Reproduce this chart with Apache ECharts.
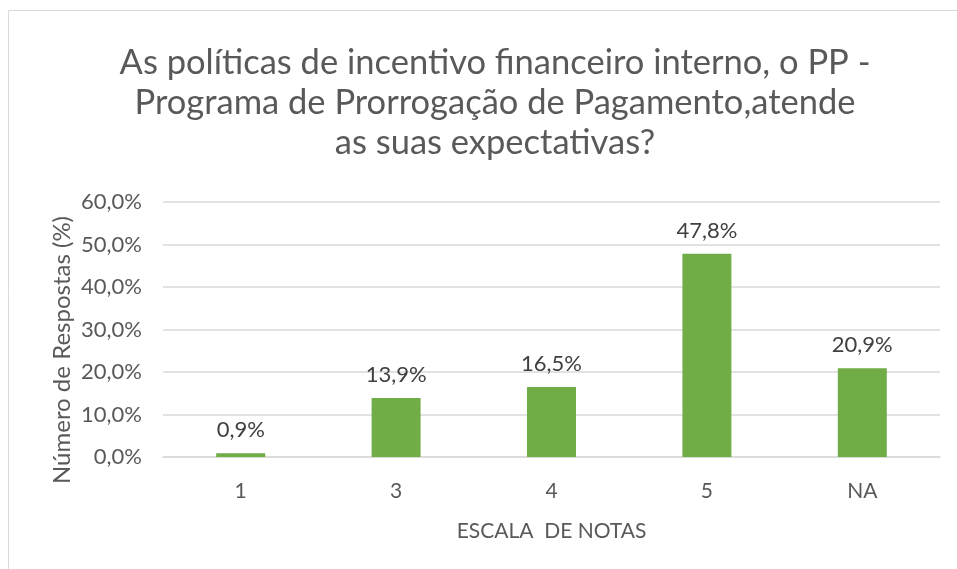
<!DOCTYPE html>
<html>
<head>
<meta charset="utf-8">
<script src="https://cdn.jsdelivr.net/npm/echarts@6/dist/echarts.min.js"></script>
<style>
  html, body { margin: 0; padding: 0; background: #fff; }
  #chart { width: 957px; height: 569px; }
</style>
</head>
<body>
<div id="chart"></div>
<script>
// Survey answers by score
const categories = ['1', '3', '4', '5', 'NA'];
const shares = [0.9, 13.9, 16.5, 47.8, 20.9];
const yTicks = [0, 10, 20, 30, 40, 50, 60];

const titleText = 'As políticas de incentivo financeiro interno, o PP -\nPrograma de Prorrogação de Pagamento,atende\nas suas expectativas?';
const yName = 'Número de Respostas (%)';
const xName = 'ESCALA  DE NOTAS';
const fontFamily = 'Lato, "Open Sans", sans-serif';

const fmt = v => v.toFixed(1).replace('.', ',') + '%';

const chart = echarts.init(document.getElementById('chart'));
chart.setOption({
  backgroundColor: '#ffffff',
  animation: false,
  graphic: [{
    type: 'rect',
    shape: { x: 8.5, y: 10.5, width: 960, height: 570 },
    style: { fill: 'none', stroke: '#d9d9d9', lineWidth: 1 },
    silent: true
  }, {
    type: 'text',
    x: 62,
    y: 350,
    rotation: Math.PI / 2,
    style: {
      text: yName,
      fontFamily: fontFamily,
      fontSize: 24,
      fill: '#595959',
      align: 'center',
      verticalAlign: 'middle'
    },
    silent: true
  }],
  title: {
    text: titleText,
    left: 490,
    textAlign: 'center',
    top: 38,
    textStyle: {
      fontFamily: fontFamily,
      fontSize: 34.5,
      fontWeight: 'normal',
      color: '#595959',
      lineHeight: 40
    }
  },
  grid: { left: 163, right: 17, top: 202, bottom: 112 },
  xAxis: {
    type: 'category',
    data: categories,
    name: xName,
    nameLocation: 'middle',
    nameGap: 64,
    nameTextStyle: { fontFamily: fontFamily, fontSize: 21, color: '#595959' },
    axisLine: { lineStyle: { color: '#d9d9d9', width: 1.5 } },
    axisTick: { show: false },
    axisLabel: { fontFamily: fontFamily, fontSize: 21, color: '#595959', margin: 24 }
  },
  yAxis: {
    type: 'value',
    min: yTicks[0],
    max: yTicks[yTicks.length - 1],
    interval: 10,
    axisLine: { show: false },
    axisTick: { show: false },
    axisLabel: {
      fontFamily: fontFamily, fontSize: 22, color: '#595959', margin: 21,
      formatter: v => fmt(v)
    },
    splitLine: { lineStyle: { color: '#d9d9d9', width: 1.5 } }
  },
  series: [{
    type: 'bar',
    data: shares,
    barWidth: 49,
    itemStyle: { color: '#70ad47' },
    label: {
      show: true,
      position: 'top',
      distance: 12,
      fontFamily: fontFamily,
      fontSize: 22,
      color: '#404040',
      formatter: p => fmt(p.value)
    }
  }]
});
</script>
</body>
</html>
